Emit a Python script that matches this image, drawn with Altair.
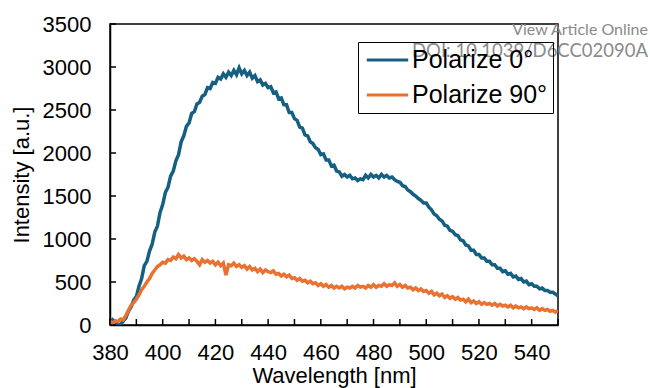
import altair as alt
import pandas as pd

wavelength = list(range(380, 551))

pol0 = [
    20, 60, 35, 10, 5, 45, 80, 160, 210, 290,            # 380-389
    330, 450, 540, 690, 740, 860, 940, 1080, 1150, 1310,  # 390-399
    1400, 1540, 1600, 1730, 1790, 1910, 1980, 2130, 2200, 2310,  # 400-409
    2350, 2460, 2480, 2570, 2590, 2660, 2680, 2760, 2750, 2820,  # 410-419
    2810, 2880, 2860, 2920, 2880, 2940, 2900, 2960, 2910, 2990,  # 420-429
    2920, 2960, 2900, 2940, 2870, 2900, 2830, 2850, 2790, 2810,  # 430-439
    2760, 2770, 2700, 2710, 2630, 2640, 2560, 2560, 2470, 2470,  # 440-449
    2400, 2380, 2300, 2290, 2210, 2200, 2130, 2110, 2060, 2040,  # 450-459
    1980, 1990, 1920, 1920, 1850, 1860, 1790, 1780, 1730, 1750,  # 460-469
    1720, 1740, 1700, 1710, 1680, 1700, 1690, 1740, 1710, 1750,  # 470-479
    1720, 1740, 1710, 1750, 1720, 1740, 1710, 1720, 1690, 1670,  # 480-489
    1660, 1620, 1610, 1570, 1550, 1520, 1500, 1470, 1450, 1420,  # 490-499
    1420, 1370, 1340, 1290, 1270, 1230, 1210, 1160, 1150, 1100,  # 500-509
    1090, 1050, 1040, 990, 980, 930, 920, 870, 870, 820,         # 510-519
    820, 780, 780, 740, 740, 700, 700, 660, 660, 620,            # 520-529
    630, 590, 600, 560, 570, 530, 540, 500, 510, 470,            # 530-539
    480, 450, 450, 420, 430, 400, 400, 380, 380, 360,            # 540-549
    340,                                                         # 550
]

pol90 = [
    40, 20, 50, 40, 70, 60, 110, 170, 230, 260,       # 380-389
    300, 350, 410, 450, 500, 540, 600, 640, 680, 700,  # 390-399
    730, 720, 760, 750, 790, 770, 820, 780, 800, 760,  # 400-409
    780, 750, 770, 740, 700, 760, 730, 750, 720, 740,  # 410-419
    700, 730, 690, 720, 580, 700, 690, 720, 680, 700,  # 420-429
    670, 690, 650, 680, 640, 660, 620, 650, 610, 640,  # 430-439
    620, 610, 630, 590, 600, 570, 590, 560, 580, 540,  # 440-449
    550, 520, 540, 510, 520, 490, 510, 480, 490, 460,  # 450-459
    480, 450, 470, 440, 460, 430, 450, 430, 450, 420,  # 460-469
    440, 430, 450, 430, 460, 440, 450, 430, 460, 440,  # 470-479
    470, 440, 460, 450, 480, 450, 470, 460, 490, 450,  # 480-489
    470, 440, 460, 430, 440, 410, 430, 400, 420, 390,  # 490-499
    400, 370, 390, 350, 370, 340, 360, 320, 340, 310,  # 500-509
    330, 300, 320, 290, 300, 270, 300, 260, 280, 250,  # 510-519
    270, 240, 260, 240, 250, 230, 250, 220, 240, 220,  # 520-529
    230, 210, 230, 200, 220, 200, 210, 190, 210, 190,  # 530-539
    200, 180, 200, 170, 190, 170, 180, 160, 170, 150,  # 540-549
    170,                                               # 550
]

series_names = ["Polarize 0°", "Polarize 90°"]
series_colors = ["#156082", "#E97132"]

x_label_values = [380, 400, 420, 440, 460, 480, 500, 520, 540]
x_tick_values = list(range(380, 551, 10))
y_tick_values = [0, 500, 1000, 1500, 2000, 2500, 3000, 3500]

df = pd.DataFrame({
    "Wavelength": wavelength * 2,
    "Intensity": pol0 + pol90,
    "Series": [series_names[0]] * len(wavelength) + [series_names[1]] * len(wavelength),
})

FONT = "Liberation Sans"
xscale = alt.Scale(domain=[380, 550], nice=False, zero=False)
yscale = alt.Scale(domain=[0, 3500], nice=False)

lines = alt.Chart(df).mark_line(strokeWidth=3.5, clip=True).encode(
    x=alt.X("Wavelength:Q", scale=xscale,
            axis=alt.Axis(title="Wavelength [nm]", values=x_label_values, ticks=False,
                          labelOverlap=False, labelFlush=False, format="d",
                          labelPadding=17, titlePadding=2)),
    y=alt.Y("Intensity:Q", scale=yscale,
            axis=alt.Axis(title="Intensity [a.u.]", values=y_tick_values, ticks=False,
                          labelOverlap=False, labelFlush=False, format="d",
                          labelPadding=19, titlePadding=9)),
    color=alt.Color("Series:N",
                    scale=alt.Scale(domain=series_names, range=series_colors),
                    legend=alt.Legend(title=None, orient="none", legendX=248, legendY=18,
                                      symbolType="M-0.8,0H2.8", symbolStrokeWidth=3,
                                      symbolSize=529, labelFontSize=25, labelFont=FONT,
                                      labelOffset=23, rowPadding=9, padding=5,
                                      strokeColor="black")),
    order=alt.Order("Series:N"),
)

xticks = alt.Chart(pd.DataFrame({"t": x_tick_values})).mark_rule(color="black", strokeWidth=1.5).encode(
    x=alt.X("t:Q", scale=xscale),
    y=alt.value(301),
    y2=alt.value(295),
)

yticks = alt.Chart(pd.DataFrame({"v": y_tick_values})).mark_rule(color="black", strokeWidth=1.5).encode(
    y=alt.Y("v:Q", scale=yscale),
    x=alt.value(0),
    x2=alt.value(6),
)

wm1 = alt.Chart(pd.DataFrame({"txt": ["View Article Online"]})).mark_text(
    align="right", baseline="middle", font="Lato", fontSize=16, color="#8a8a8a"
).encode(text="txt:N", x=alt.value(538), y=alt.value(6))
wm2 = alt.Chart(pd.DataFrame({"txt": ["DOI: 10.1039/D6CC02090A"]})).mark_text(
    align="right", baseline="middle", font="Lato", fontSize=18.5, color="#8a8a8a"
).encode(text="txt:N", x=alt.value(538), y=alt.value(27))

chart = alt.layer(lines, xticks, yticks, wm1, wm2).properties(
    width=448, height=301,
    autosize=alt.AutoSizeParams(type="none"),
    padding={"left": 110, "top": 24, "right": 92, "bottom": 63},
).configure_view(
    stroke="black", strokeWidth=1.5
).configure_axis(
    grid=False, domainColor="black", domainWidth=1.5,
    labelFont=FONT, labelFontSize=22, labelColor="black",
    titleFont=FONT, titleFontSize=22, titleColor="black", titleFontWeight="normal",
).configure_legend(
    labelColor="black"
)

chart.save("out.html", embed_options={"renderer": "svg", "actions": False})
